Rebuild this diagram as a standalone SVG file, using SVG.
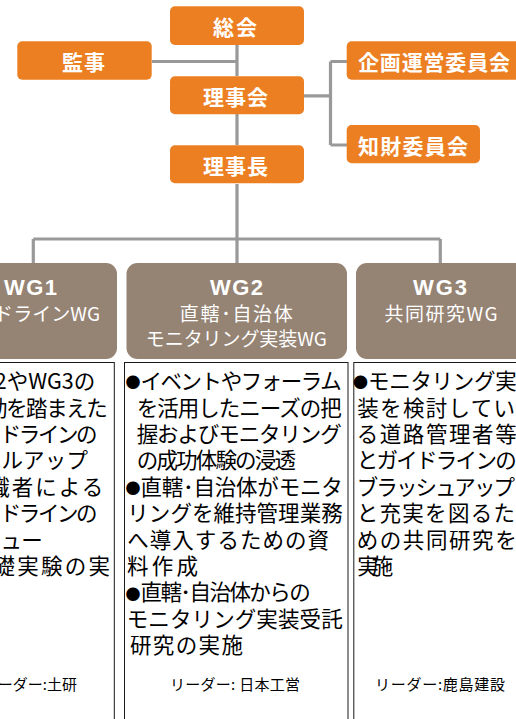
<svg xmlns="http://www.w3.org/2000/svg" width="516" height="719" viewBox="0 0 516 719">
<style>
.org{fill:#ED7F23;}
.ot{fill:#fff;font-family:"Noto Sans CJK JP",sans-serif;font-weight:700;font-size:21px;}
.wg{fill:#958374;}
.wt{fill:#fff;font-family:"Liberation Sans","Noto Sans CJK JP",sans-serif;text-anchor:middle;}
.wt1{font-weight:700;font-size:22px;}
.wt2{font-family:"Noto Sans CJK JP",sans-serif;font-size:19px;}
.box{fill:#fff;stroke:#1a1a1a;stroke-width:1;}
.bt{fill:#000;font-family:"Noto Sans CJK JP",sans-serif;font-size:21.5px;}
.bl{font-size:15px;}
.ld{fill:#000;font-family:"Noto Sans CJK JP",sans-serif;font-size:15px;}
.cn{fill:none;stroke:#999;stroke-width:3.2;}
</style>
<rect width="516" height="719" fill="#fff"/>
<g id="connectors">
<path class="cn" d="M237 45V76M152 61.5H237M237 114V145M304 95.8H330.5M330.5 61.5V145M330.5 61.5H347M330.5 145H347M237 184V263M33.3 239H440.3M33.3 239V263M440.3 239V263"/>
</g>
<g id="sokai"><rect class="org" x="170" y="6.3" width="134" height="38.7" rx="5"/><text class="ot" x="213" y="35" textLength="44" lengthAdjust="spacing">総会</text></g>
<g id="kanji"><rect class="org" x="17.3" y="41.3" width="134.4" height="38.4" rx="5"/><text class="ot" x="62" y="70" textLength="43" lengthAdjust="spacing">監事</text></g>
<g id="rijikai"><rect class="org" x="170" y="76.3" width="134" height="38" rx="5"/><text class="ot" x="203" y="105" textLength="65" lengthAdjust="spacing">理事会</text></g>
<g id="rijicho"><rect class="org" x="170" y="145.3" width="134" height="38" rx="5"/><text class="ot" x="203" y="173.5" textLength="65" lengthAdjust="spacing">理事長</text></g>
<g id="kikaku"><rect class="org" x="346.7" y="41.3" width="180" height="38.4" rx="5"/><text class="ot" x="358" y="70" textLength="152" lengthAdjust="spacing">企画運営委員会</text></g>
<g id="chizai"><rect class="org" x="346.7" y="125" width="133.3" height="38.3" rx="5"/><text class="ot" x="358" y="153.5" textLength="110" lengthAdjust="spacing">知財委員会</text></g>
<g id="wg1">
<rect class="wg" x="-57" y="263" width="174" height="96" rx="11"/>
<text class="wt wt1" x="30.5" y="295" textLength="53" lengthAdjust="spacing">WG1</text>
<text class="wt wt2" x="28" y="321" textLength="144" lengthAdjust="spacing">ガイドラインWG</text>
<rect class="box" x="-100" y="362.5" width="214.3" height="400"/>
<text class="bt" text-anchor="end">
<tspan x="100" y="389.2">●WG2やWG3の</tspan>
<tspan x="111" y="415.6" textLength="161.6" lengthAdjust="spacing">の活動を踏まえた</tspan>
<tspan x="100" y="442" textLength="136" lengthAdjust="spacing">ガイドラインの</tspan>
<tspan x="93" y="468.4" textLength="130" lengthAdjust="spacing">レベルアップ</tspan>
<tspan x="110" y="494.8" textLength="162" lengthAdjust="spacing">●有識者による</tspan>
<tspan x="100" y="521.2" textLength="136" lengthAdjust="spacing">ガイドラインの</tspan>
<tspan x="47" y="547.6" textLength="84" lengthAdjust="spacing">レビュー</tspan>
<tspan x="110" y="574" textLength="164" lengthAdjust="spacing">●基礎実験の実</tspan>
</text>
<text class="ld" x="77" y="690" text-anchor="end">リーダー:土研</text>
</g>
<g id="wg2">
<rect class="wg" x="126.5" y="263" width="220.5" height="96" rx="11"/>
<text class="wt wt1" x="236.5" y="295" textLength="53" lengthAdjust="spacing">WG2</text>
<text class="wt wt2" x="236.3" y="321" textLength="113" lengthAdjust="spacing">直轄･自治体</text>
<text class="wt wt2" x="236.3" y="346" textLength="181" lengthAdjust="spacing">モニタリング実装WG</text>
<rect class="box" x="124.5" y="362.5" width="223.5" height="400"/>
<text class="bt">
<tspan class="bl" x="125.5" y="388.4">●</tspan><tspan x="140.5" y="389.2" textLength="201.2" lengthAdjust="spacing">イベントやフォーラム</tspan>
<tspan x="136.7" y="415.6" textLength="205" lengthAdjust="spacing">を活用したニーズの把</tspan>
<tspan x="136.7" y="442" textLength="205" lengthAdjust="spacing">握およびモニタリング</tspan>
<tspan x="136.7" y="468.4" textLength="159.3" lengthAdjust="spacing">の成功体験の浸透</tspan>
<tspan class="bl" x="125.5" y="494">●</tspan><tspan x="140.5" y="494.8" textLength="202.2" lengthAdjust="spacing">直轄･自治体がモニタ</tspan>
<tspan x="127.3" y="521.2" textLength="215.4" lengthAdjust="spacing">リングを維持管理業務</tspan>
<tspan x="127.3" y="547.6" textLength="201.7" lengthAdjust="spacing">へ導入するための資</tspan>
<tspan x="127" y="574" textLength="71" lengthAdjust="spacing">料作成</tspan>
<tspan class="bl" x="125.5" y="599.6">●</tspan><tspan x="140.5" y="600.4" textLength="170.2" lengthAdjust="spacing">直轄･自治体からの</tspan>
<tspan x="126.7" y="626.8" textLength="216" lengthAdjust="spacing">モニタリング実装受託</tspan>
<tspan x="130" y="653.2" textLength="113" lengthAdjust="spacing">研究の実施</tspan>
</text>
<text class="ld" x="170" y="690" textLength="130" lengthAdjust="spacing">リーダー: 日本工営</text>
</g>
<g id="wg3">
<rect class="wg" x="356" y="263" width="175" height="96" rx="11"/>
<text class="wt wt1" x="440" y="295" textLength="54" lengthAdjust="spacing">WG3</text>
<text class="wt wt2" x="441" y="321" textLength="113" lengthAdjust="spacing">共同研究WG</text>
<rect class="box" x="353.8" y="362.5" width="200" height="400"/>
<text class="bt">
<tspan class="bl" x="353" y="388.4">●</tspan><tspan x="368" y="389.2" textLength="148.7" lengthAdjust="spacing">モニタリング実</tspan>
<tspan x="357.3" y="415.6" textLength="157.7" lengthAdjust="spacing">装を検討してい</tspan>
<tspan x="356.7" y="442" textLength="160" lengthAdjust="spacing">る道路管理者等</tspan>
<tspan x="356.7" y="468.4" textLength="160" lengthAdjust="spacing">とガイドラインの</tspan>
<tspan x="356.7" y="494.8" textLength="158.3" lengthAdjust="spacing">ブラッシュアップ</tspan>
<tspan x="356.7" y="521.2" textLength="158.3" lengthAdjust="spacing">と充実を図るた</tspan>
<tspan x="356.7" y="547.6" textLength="160" lengthAdjust="spacing">めの共同研究を</tspan>
<tspan x="357.3" y="574" textLength="36" lengthAdjust="spacing">実施</tspan>
</text>
<text class="ld" x="375" y="690" textLength="130" lengthAdjust="spacing">リーダー:鹿島建設</text>
</g>
</svg>
